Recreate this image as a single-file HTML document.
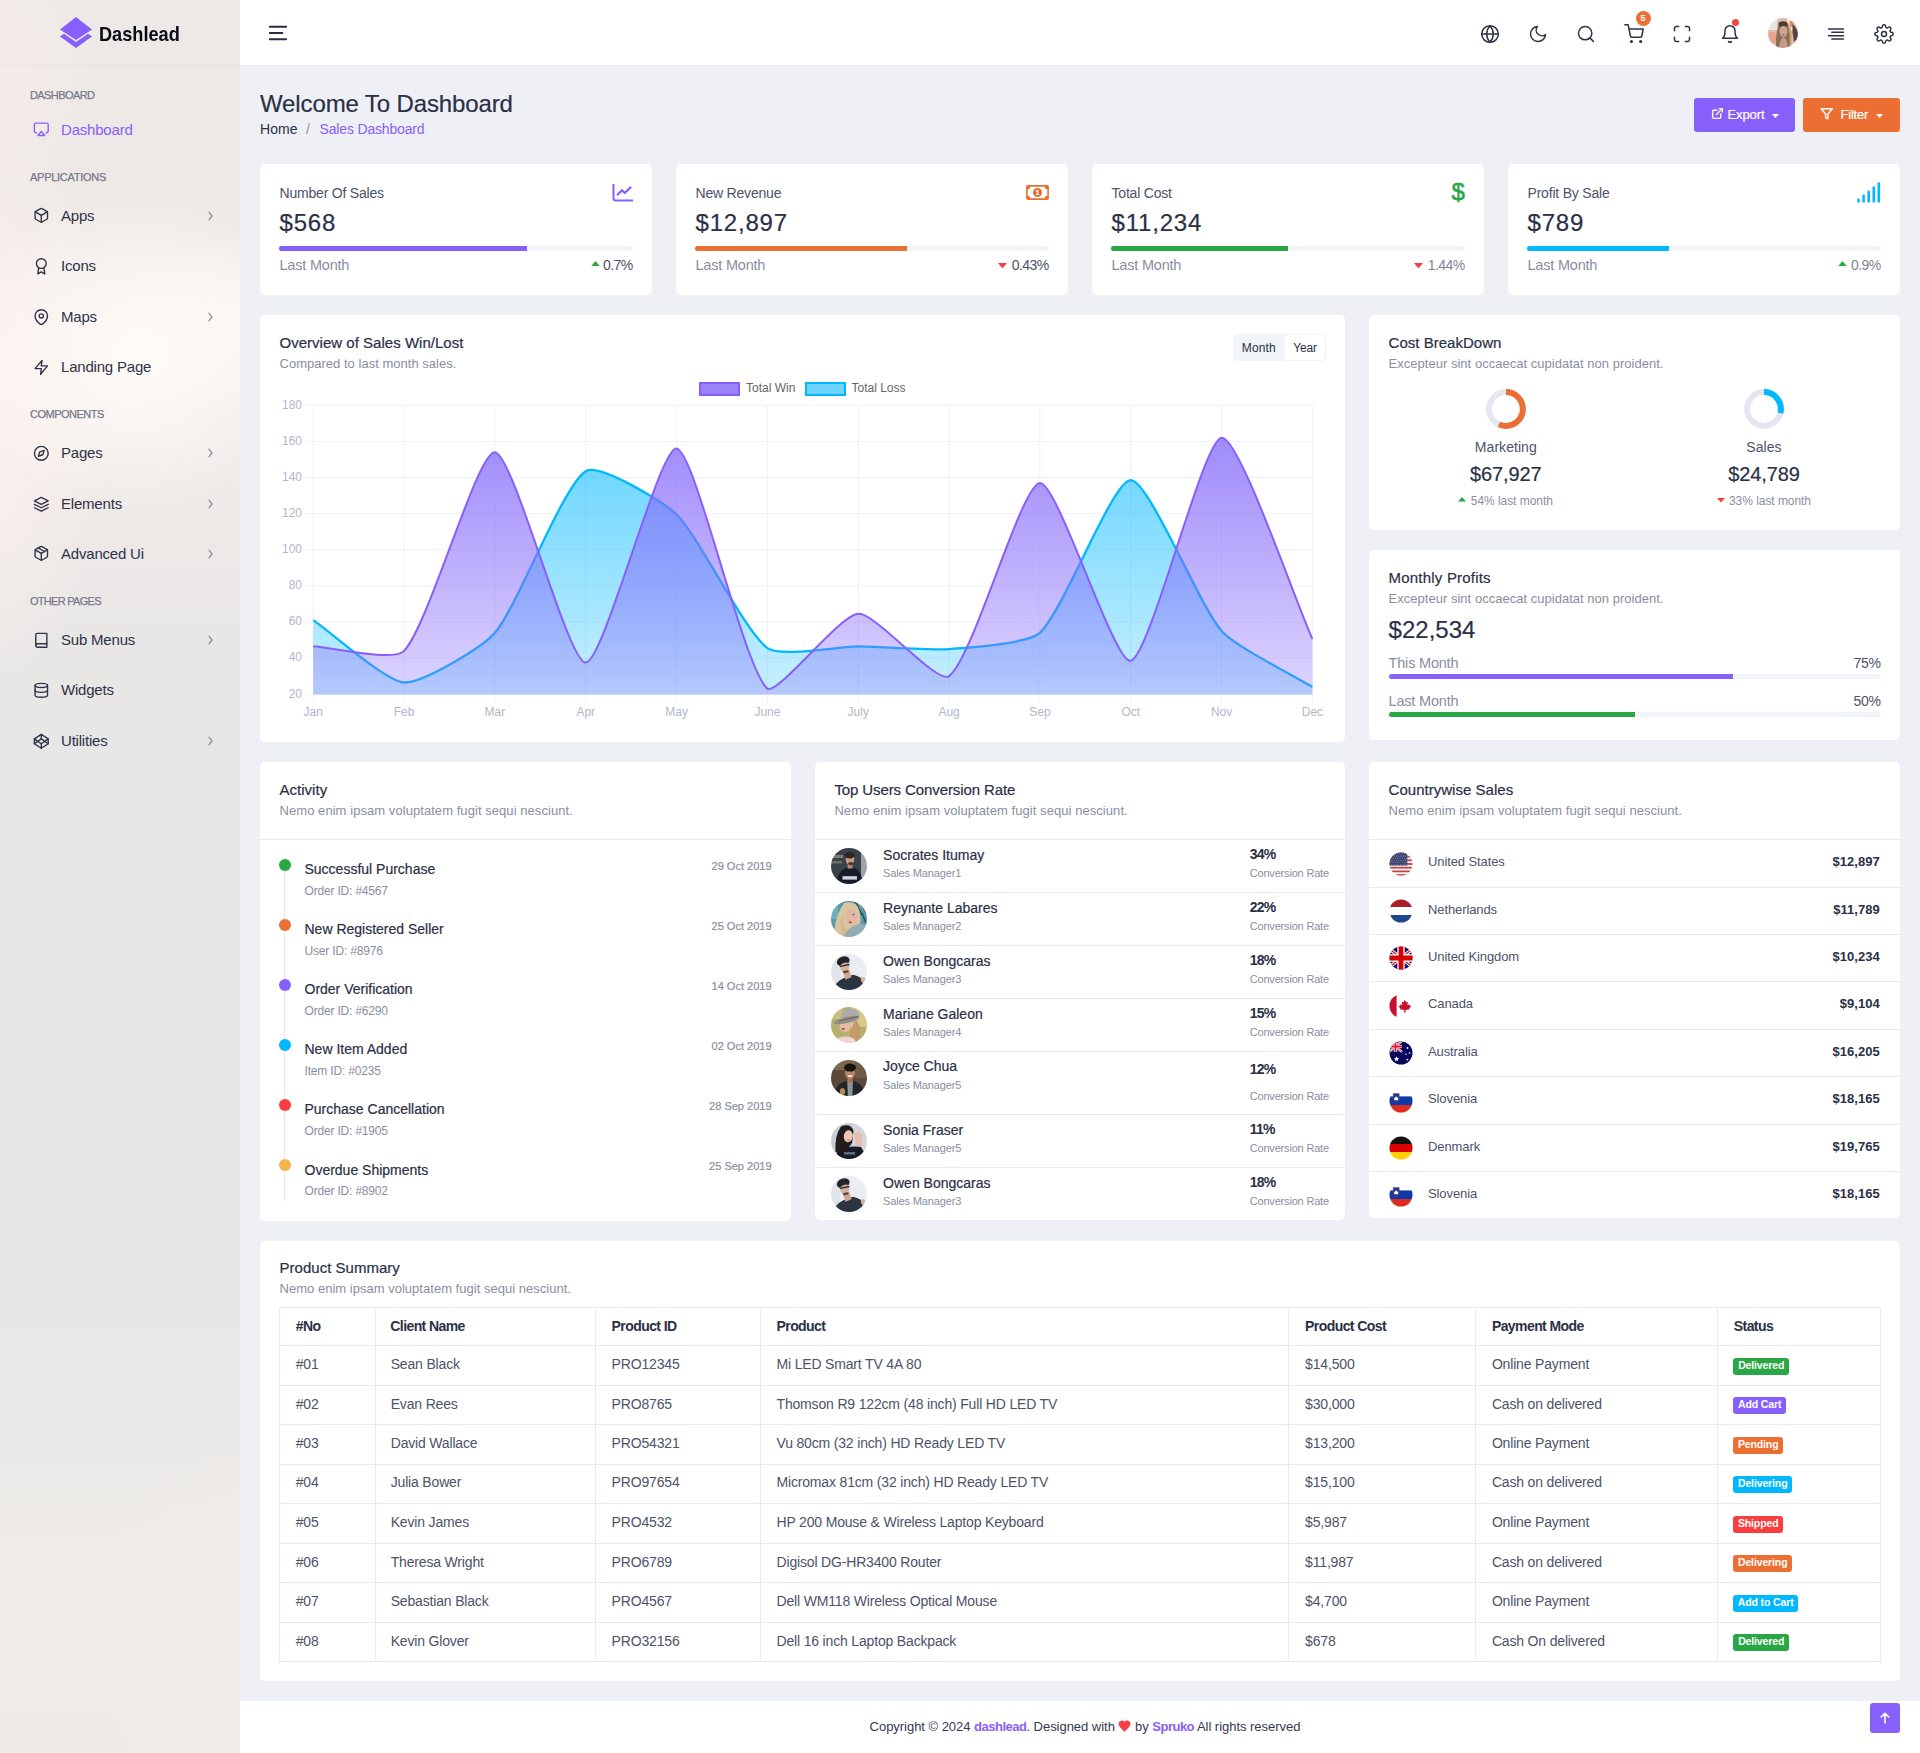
<!DOCTYPE html>
<html lang="en">
<head>
<meta charset="utf-8">
<title>Dashlead - Sales Dashboard</title>
<style>
*{box-sizing:border-box;margin:0;padding:0}
html,body{width:1920px;height:1753px;overflow:hidden}
body{font-family:"Liberation Sans",Arial,sans-serif;font-size:14px;color:#1d212f;background:#eff0f6;position:relative;line-height:1}
.abs{position:absolute}
.t{position:absolute;white-space:nowrap;line-height:1}
.m{-webkit-text-stroke:.2px currentColor}
.b{font-weight:700}
.card{position:absolute;background:#fff;border-radius:5px}
.mut{color:#8b8fa1}
svg{display:block}
.ic{position:absolute;fill:none;stroke:currentColor;stroke-linecap:round;stroke-linejoin:round}
/* sidebar */
#sb{position:absolute;left:0;top:0;width:240px;height:1753px;overflow:hidden;
background:
 radial-gradient(ellipse 180px 160px at 135px 355px, rgba(255,251,248,1) 0%, rgba(255,250,247,.7) 40%, rgba(255,250,247,0) 100%),
 radial-gradient(ellipse 130px 95px at 240px 325px, rgba(255,249,245,.85), rgba(255,249,245,0) 100%),
 radial-gradient(ellipse 120px 290px at -12px 400px, rgba(252,242,238,.95), rgba(252,242,238,0) 100%),
 radial-gradient(ellipse 110px 130px at -12px 70px, rgba(247,237,233,.85), rgba(247,237,233,0) 100%),
 radial-gradient(ellipse 160px 200px at 250px 1640px, rgba(243,237,232,.8), rgba(243,237,232,0) 100%),
 linear-gradient(180deg,#ede9e7 0px,#eee9e7 180px,#f2ecea 330px,#efeae8 480px,#e9e7e6 640px,#e6e6e6 800px,#e6e7e7 1250px,#eae8e7 1420px,#eeebe8 1560px,#eeeae8 1753px);}
#sb .lab{position:absolute;left:30px;font-size:11px;color:#76798a;letter-spacing:.1px;white-space:nowrap;-webkit-text-stroke:.25px currentColor}
#sb .it{position:absolute;left:61px;font-size:15px;color:#2e3347;white-space:nowrap;letter-spacing:-.2px}
#sb .chev{position:absolute;left:206px;width:8px;height:10px;color:#8a8d9b}
#sb .mi{position:absolute;left:33.2px;width:16.6px;height:16.6px;color:#2e3347;fill:none;stroke:currentColor;stroke-width:2;stroke-linecap:round;stroke-linejoin:round}
/* header */
#hd{position:absolute;left:240px;top:0;width:1680px;height:66px;background:#fff;border-bottom:1px solid #e4e6f0}
.hi{position:absolute;width:20px;height:20px;top:23.5px;color:#2e3347;fill:none;stroke:currentColor;stroke-width:1.8;stroke-linecap:round;stroke-linejoin:round}
.bar{position:absolute;height:5px;border-radius:3px;background:#f1f4f9}
.bar i{position:absolute;left:0;top:0;height:5px;border-radius:3px 0 0 3px;display:block}
</style>
</head>
<body>
<div id="sb">
<svg class="abs" style="left:59px;top:16px;width:34px;height:33px" viewBox="0 0 34 33"><polygon points="17,1 33,13.5 17,24 1,13.5" fill="#8760fb"/><polygon points="1,20.5 5,17.8 17,26 29,17.8 33,20.5 17,32" fill="#8760fb"/></svg>
<div class="t b" style="left:99.4px;top:23px;font-size:21px;color:#0b0b14;transform:scaleX(.865);transform-origin:0 0">Dashlead</div>
<div class="abs" style="left:0;top:65px;width:240px;height:1px;background:rgba(60,50,60,.04)"></div>
<div class="lab" style="top:89.5px;letter-spacing:-0.59px">DASHBOARD</div>
<div class="lab" style="top:171.5px;letter-spacing:-0.27px">APPLICATIONS</div>
<div class="lab" style="top:408.5px;letter-spacing:-0.51px">COMPONENTS</div>
<div class="lab" style="top:595.5px;letter-spacing:-0.71px">OTHER PAGES</div>
<svg class="mi" style="top:120.9px;color:#8760fb" viewBox="0 0 24 24"><path d="M5 17H4a2 2 0 0 1-2-2V5a2 2 0 0 1 2-2h16a2 2 0 0 1 2 2v10a2 2 0 0 1-2 2h-1"/><polygon points="12 15 17 21 7 21 12 15"/></svg>
<div class="it" style="top:122px;color:#8760fb">Dashboard</div>
<svg class="mi" style="top:206.9px;color:#2e3347" viewBox="0 0 24 24"><path d="M21 16V8a2 2 0 0 0-1-1.73l-7-4a2 2 0 0 0-2 0l-7 4A2 2 0 0 0 3 8v8a2 2 0 0 0 1 1.73l7 4a2 2 0 0 0 2 0l7-4A2 2 0 0 0 21 16z"/><polyline points="3.27 6.96 12 12.01 20.73 6.96"/><line x1="12" y1="22.08" x2="12" y2="12"/></svg>
<div class="it" style="top:208px;color:#2e3347">Apps</div>
<svg class="chev" style="top:211px" viewBox="0 0 8 10"><polyline points="2.9,1.2 6,5 2.9,8.8" fill="none" stroke="currentColor" stroke-width="1.2" stroke-linecap="round" stroke-linejoin="round"/></svg>
<svg class="mi" style="top:258.0px;color:#2e3347" viewBox="0 0 24 24"><circle cx="12" cy="8" r="7"/><polyline points="8.21 13.89 7 23 12 20 17 23 15.79 13.88"/></svg>
<div class="it" style="top:258px;color:#2e3347">Icons</div>
<svg class="mi" style="top:308.5px;color:#2e3347" viewBox="0 0 24 24"><path d="M21 10c0 7-9 13-9 13s-9-6-9-13a9 9 0 0 1 18 0z"/><circle cx="12" cy="10" r="3"/></svg>
<div class="it" style="top:308.5px;color:#2e3347">Maps</div>
<svg class="chev" style="top:311.5px" viewBox="0 0 8 10"><polyline points="2.9,1.2 6,5 2.9,8.8" fill="none" stroke="currentColor" stroke-width="1.2" stroke-linecap="round" stroke-linejoin="round"/></svg>
<svg class="mi" style="top:358.5px;color:#2e3347" viewBox="0 0 24 24"><polygon points="13 2 3 14 12 14 11 22 21 10 12 10 13 2"/></svg>
<div class="it" style="top:358.5px;color:#2e3347">Landing Page</div>
<svg class="mi" style="top:444.5px;color:#2e3347" viewBox="0 0 24 24"><circle cx="12" cy="12" r="10"/><polygon points="16.24 7.76 14.12 14.12 7.76 16.24 9.88 9.88 16.24 7.76"/></svg>
<div class="it" style="top:444.5px;color:#2e3347">Pages</div>
<svg class="chev" style="top:447.5px" viewBox="0 0 8 10"><polyline points="2.9,1.2 6,5 2.9,8.8" fill="none" stroke="currentColor" stroke-width="1.2" stroke-linecap="round" stroke-linejoin="round"/></svg>
<svg class="mi" style="top:495.5px;color:#2e3347" viewBox="0 0 24 24"><polygon points="12 2 2 7 12 12 22 7 12 2"/><polyline points="2 17 12 22 22 17"/><polyline points="2 12 12 17 22 12"/></svg>
<div class="it" style="top:495.5px;color:#2e3347">Elements</div>
<svg class="chev" style="top:498.5px" viewBox="0 0 8 10"><polyline points="2.9,1.2 6,5 2.9,8.8" fill="none" stroke="currentColor" stroke-width="1.2" stroke-linecap="round" stroke-linejoin="round"/></svg>
<svg class="mi" style="top:545.0px;color:#2e3347" viewBox="0 0 24 24"><line x1="16.5" y1="9.4" x2="7.5" y2="4.21"/><path d="M21 16V8a2 2 0 0 0-1-1.73l-7-4a2 2 0 0 0-2 0l-7 4A2 2 0 0 0 3 8v8a2 2 0 0 0 1 1.73l7 4a2 2 0 0 0 2 0l7-4A2 2 0 0 0 21 16z"/><polyline points="3.27 6.96 12 12.01 20.73 6.96"/><line x1="12" y1="22.08" x2="12" y2="12"/></svg>
<div class="it" style="top:545.5px;color:#2e3347">Advanced Ui</div>
<svg class="chev" style="top:548.5px" viewBox="0 0 8 10"><polyline points="2.9,1.2 6,5 2.9,8.8" fill="none" stroke="currentColor" stroke-width="1.2" stroke-linecap="round" stroke-linejoin="round"/></svg>
<svg class="mi" style="top:631.5px;color:#2e3347" viewBox="0 0 24 24"><path d="M4 19.5A2.5 2.5 0 0 1 6.5 17H20"/><path d="M6.5 2H20v20H6.5A2.5 2.5 0 0 1 4 19.5v-15A2.5 2.5 0 0 1 6.5 2z"/></svg>
<div class="it" style="top:631.5px;color:#2e3347">Sub Menus</div>
<svg class="chev" style="top:634.5px" viewBox="0 0 8 10"><polyline points="2.9,1.2 6,5 2.9,8.8" fill="none" stroke="currentColor" stroke-width="1.2" stroke-linecap="round" stroke-linejoin="round"/></svg>
<svg class="mi" style="top:682.0px;color:#2e3347" viewBox="0 0 24 24"><ellipse cx="12" cy="5" rx="9" ry="3"/><path d="M21 12c0 1.66-4 3-9 3s-9-1.34-9-3"/><path d="M3 5v14c0 1.66 4 3 9 3s9-1.34 9-3V5"/></svg>
<div class="it" style="top:682px;color:#2e3347">Widgets</div>
<svg class="mi" style="top:732.5px;color:#2e3347" viewBox="0 0 24 24"><polygon points="12 2 22 8.5 22 15.5 12 22 2 15.5 2 8.5 12 2"/><line x1="12" y1="22" x2="12" y2="15.5"/><polyline points="22 8.5 12 15.5 2 8.5"/><polyline points="2 15.5 12 8.5 22 15.5"/><line x1="12" y1="2" x2="12" y2="8.5"/></svg>
<div class="it" style="top:732.5px;color:#2e3347">Utilities</div>
<svg class="chev" style="top:735.5px" viewBox="0 0 8 10"><polyline points="2.9,1.2 6,5 2.9,8.8" fill="none" stroke="currentColor" stroke-width="1.2" stroke-linecap="round" stroke-linejoin="round"/></svg>
</div>
<div id="hd">
<svg class="abs" style="left:28px;top:25px;width:20px;height:16px" viewBox="0 0 20 16"><g stroke="#272c40" stroke-width="1.9" stroke-linecap="round"><line x1="1.8" y1="1.8" x2="18.2" y2="1.8"/><line x1="1.8" y1="8" x2="14.4" y2="8"/><line x1="1.8" y1="14.2" x2="18.2" y2="14.2"/></g></svg>
<svg class="hi" style="left:1240px" viewBox="0 0 24 24"><circle cx="12" cy="12" r="10"/><line x1="2" y1="12" x2="22" y2="12"/><path d="M12 2a15.3 15.3 0 0 1 4 10 15.3 15.3 0 0 1-4 10 15.3 15.3 0 0 1-4-10 15.3 15.3 0 0 1 4-10z"/></svg>
<svg class="hi" style="left:1288px" viewBox="0 0 24 24"><path d="M21 12.79A9 9 0 1 1 11.21 3 7 7 0 0 0 21 12.79z"/></svg>
<svg class="hi" style="left:1336px" viewBox="0 0 24 24"><circle cx="11" cy="11" r="8"/><line x1="21" y1="21" x2="16.65" y2="16.65"/></svg>
<svg class="hi" style="left:1384px" viewBox="0 0 24 24"><circle cx="9" cy="21" r="1"/><circle cx="20" cy="21" r="1"/><path d="M1 1h4l2.68 13.39a2 2 0 0 0 2 1.61h9.72a2 2 0 0 0 2-1.61L23 6H6"/></svg>
<svg class="hi" style="left:1432px" viewBox="0 0 24 24"><path d="M8 3H5a2 2 0 0 0-2 2v3m18 0V5a2 2 0 0 0-2-2h-3m0 18h3a2 2 0 0 0 2-2v-3M3 16v3a2 2 0 0 0 2 2h3"/></svg>
<svg class="hi" style="left:1480px" viewBox="0 0 24 24"><path d="M18 8A6 6 0 0 0 6 8c0 7-3 9-3 9h18s-3-2-3-9"/><path d="M13.73 21a2 2 0 0 1-3.46 0"/></svg>
<svg class="hi" style="left:1586px" viewBox="0 0 24 24"><line x1="21" y1="10" x2="7" y2="10"/><line x1="21" y1="6" x2="3" y2="6"/><line x1="21" y1="14" x2="3" y2="14"/><line x1="21" y1="18" x2="7" y2="18"/></svg>
<svg class="hi" style="left:1634px" viewBox="0 0 24 24"><circle cx="12" cy="12" r="3"/><path d="M19.4 15a1.65 1.65 0 0 0 .33 1.82l.06.06a2 2 0 0 1 0 2.83 2 2 0 0 1-2.83 0l-.06-.06a1.65 1.65 0 0 0-1.82-.33 1.65 1.65 0 0 0-1 1.51V21a2 2 0 0 1-2 2 2 2 0 0 1-2-2v-.09A1.65 1.65 0 0 0 9 19.4a1.65 1.65 0 0 0-1.82.33l-.06.06a2 2 0 0 1-2.83 0 2 2 0 0 1 0-2.83l.06-.06a1.65 1.65 0 0 0 .33-1.82 1.65 1.65 0 0 0-1.51-1H3a2 2 0 0 1-2-2 2 2 0 0 1 2-2h.09A1.65 1.65 0 0 0 4.6 9a1.65 1.65 0 0 0-.33-1.82l-.06-.06a2 2 0 0 1 0-2.83 2 2 0 0 1 2.83 0l.06.06a1.65 1.65 0 0 0 1.82.33H9a1.65 1.65 0 0 0 1-1.51V3a2 2 0 0 1 2-2 2 2 0 0 1 2 2v.09a1.65 1.65 0 0 0 1 1.51 1.65 1.65 0 0 0 1.82-.33l.06-.06a2 2 0 0 1 2.83 0 2 2 0 0 1 0 2.83l-.06.06a1.65 1.65 0 0 0-.33 1.82V9a1.65 1.65 0 0 0 1.51 1H21a2 2 0 0 1 2 2 2 2 0 0 1-2 2h-.09a1.65 1.65 0 0 0-1.51 1z"/></svg>
<div class="abs b" style="left:1395.5px;top:11px;width:15px;height:15px;border-radius:8px;background:#eb6f33;color:#fff;font-size:9px;line-height:15px;text-align:center">5</div>
<div class="abs" style="left:1492px;top:19px;width:7px;height:7px;border-radius:4px;background:#f34343"></div>
<svg class="abs" style="left:1528px;top:18px;width:30px;height:30px" viewBox="0 0 30 30"><defs><clipPath id="havc"><circle cx="15.0" cy="15.0" r="15.0"/></clipPath><filter id="havf" x="-10%" y="-10%" width="120%" height="120%"><feGaussianBlur stdDeviation="0.4"/></filter></defs><g clip-path="url(#havc)"><g filter="url(#havf)"><rect x="-2" y="-2" width="34" height="34" fill="#dcbcae"/><rect x="-2" y="-2" width="11" height="14" fill="#e9e4e0"/><rect x="19" y="-2" width="6" height="14" fill="#ece6e0"/><rect x="21.500" y="3" width="4" height="6" fill="#e58e6a"/><path d="M24.500 6 Q30 10 30.500 20 L26 24 L24.500 14 Z" fill="#5a423c"/><ellipse cx="4" cy="20" rx="5" ry="6" fill="#e6a48e"/><path d="M8 32 Q7.500 11 11.500 6 Q15 1.500 19.500 5 Q23 9 22.500 32 Z" fill="#8f6d52"/><ellipse cx="15" cy="6.200" rx="4.600" ry="3" fill="#4d3c35"/><path d="M20 8 Q22.500 16 21.500 28 L23.500 28 Q24.500 14 21.500 7 Z" fill="#c9a777"/><path d="M10.800 32 Q11.500 20.500 15.500 19 Q19.500 20.500 20 32 Z" fill="#c29b8b"/><ellipse cx="15.500" cy="13.300" rx="4" ry="5.500" fill="#cba392"/><ellipse cx="15.500" cy="16.600" rx="1.100" ry=".6" fill="#a4504d"/></g></g></svg>
</div>
<div class="t m" style="top:91.68px;font-size:24px;left:260.00px;color:#2a3045;letter-spacing:-0.12px;">Welcome To Dashboard</div>
<div class="t " style="top:121.90px;font-size:14px;left:260.00px;color:#2a3045;letter-spacing:0.03px;">Home</div>
<div class="t " style="top:121.90px;font-size:14px;left:306.00px;color:#8a8ea0;">/</div>
<div class="t " style="top:121.90px;font-size:14px;left:319.50px;color:#8760fb;letter-spacing:-0.16px;">Sales Dashboard</div>
<div class="abs" style="left:1694px;top:98px;width:101px;height:34px;background:#8760fb;border-radius:3px"></div>
<svg class="ic" style="left:1710.5px;top:107px;width:13px;height:13px;color:#fff;stroke-width:2.5" viewBox="0 0 24 24"><path d="M18 13v6a2 2 0 0 1-2 2H5a2 2 0 0 1-2-2V8a2 2 0 0 1 2-2h6"/><polyline points="15 3 21 3 21 9"/><line x1="10" y1="14" x2="21" y2="3"/></svg>
<div class="t m" style="top:108.30px;font-size:13px;left:1727.50px;color:#fff;letter-spacing:-0.1px;">Export</div>
<svg class="abs" style="left:1772px;top:114px;width:7px;height:4px" viewBox="0 0 7 4"><polygon points="0,0 7,0 3.5,4" fill="#fff"/></svg>
<div class="abs" style="left:1803px;top:98px;width:97px;height:34px;background:#eb6f33;border-radius:3px"></div>
<svg class="ic" style="left:1820px;top:107px;width:13.5px;height:13.5px;color:#fff;stroke-width:2.5" viewBox="0 0 24 24"><polygon points="22 3 2 3 10 12.46 10 19 14 21 14 12.46 22 3"/></svg>
<div class="t m" style="top:108.30px;font-size:13px;left:1840.50px;color:#fff;letter-spacing:-0.2px;">Filter</div>
<svg class="abs" style="left:1876px;top:114px;width:7px;height:4px" viewBox="0 0 7 4"><polygon points="0,0 7,0 3.5,4" fill="#fff"/></svg>
<div class="card" style="left:260px;top:164px;width:392px;height:130.5px;"></div>
<div class="t " style="top:186.15px;font-size:14px;left:279.50px;color:#4d5369;letter-spacing:-0.2px;">Number Of Sales</div>
<div class="t m" style="top:210.98px;font-size:24px;left:279.50px;color:#2a3045;letter-spacing:0.8px;">$568</div>
<div class="bar" style="left:279px;top:246px;width:354px;height:5px"><i style="width:247.8px;background:#8760fb;height:5px"></i></div>
<div class="t " style="top:257.73px;font-size:14.5px;left:279.50px;color:#8a8ea0;letter-spacing:-0.2px;">Last Month</div>
<div class="t " style="top:258.15px;font-size:14px;right:1287.50px;color:#4d5369;letter-spacing:-0.6px;">0.7%</div>
<div class="card" style="left:676px;top:164px;width:392px;height:130.5px;"></div>
<div class="t " style="top:186.15px;font-size:14px;left:695.50px;color:#4d5369;letter-spacing:-0.2px;">New Revenue</div>
<div class="t m" style="top:210.98px;font-size:24px;left:695.50px;color:#2a3045;letter-spacing:0.8px;">$12,897</div>
<div class="bar" style="left:695px;top:246px;width:354px;height:5px"><i style="width:212.4px;background:#eb6f33;height:5px"></i></div>
<div class="t " style="top:257.73px;font-size:14.5px;left:695.50px;color:#8a8ea0;letter-spacing:-0.2px;">Last Month</div>
<div class="t " style="top:258.15px;font-size:14px;right:871.50px;color:#4d5369;letter-spacing:-0.6px;">0.43%</div>
<div class="card" style="left:1092px;top:164px;width:392px;height:130.5px;"></div>
<div class="t " style="top:186.15px;font-size:14px;left:1111.50px;color:#4d5369;letter-spacing:-0.2px;">Total Cost</div>
<div class="t m" style="top:210.98px;font-size:24px;left:1111.50px;color:#2a3045;letter-spacing:0.8px;">$11,234</div>
<div class="bar" style="left:1111px;top:246px;width:354px;height:5px"><i style="width:177.0px;background:#29a744;height:5px"></i></div>
<div class="t " style="top:257.73px;font-size:14.5px;left:1111.50px;color:#8a8ea0;letter-spacing:-0.2px;">Last Month</div>
<div class="t " style="top:258.15px;font-size:14px;right:455.50px;color:#7f8599;letter-spacing:-0.6px;">1.44%</div>
<div class="card" style="left:1508px;top:164px;width:392px;height:130.5px;"></div>
<div class="t " style="top:186.15px;font-size:14px;left:1527.50px;color:#4d5369;letter-spacing:-0.2px;">Profit By Sale</div>
<div class="t m" style="top:210.98px;font-size:24px;left:1527.50px;color:#2a3045;letter-spacing:0.8px;">$789</div>
<div class="bar" style="left:1527px;top:246px;width:354px;height:5px"><i style="width:141.6px;background:#01b8ff;height:5px"></i></div>
<div class="t " style="top:257.73px;font-size:14.5px;left:1527.50px;color:#8a8ea0;letter-spacing:-0.2px;">Last Month</div>
<div class="t " style="top:258.15px;font-size:14px;right:39.50px;color:#7f8599;letter-spacing:-0.6px;">0.9%</div>
<svg class="abs" style="left:612px;top:183.5px;width:21px;height:18px" viewBox="0 0 21 18"><path d="M1.5 0.5 V14.2 Q1.5 16.5 3.8 16.5 H20.5" fill="none" stroke="#8760fb" stroke-width="2" stroke-linecap="round"/><polyline points="5.8,10.6 10,6.2 12.8,9 18.6,3.4" fill="none" stroke="#8760fb" stroke-width="2.2" stroke-linecap="round" stroke-linejoin="round"/></svg>
<svg class="abs" style="left:1026px;top:185px;width:23px;height:15px" viewBox="0 0 23 15"><defs><clipPath id="mbc"><rect x="0.1" y="0.1" width="22.8" height="14.8" rx="2.2"/></clipPath></defs><g clip-path="url(#mbc)"><rect x=".85" y=".85" width="21.3" height="13.3" rx="1.5" fill="none" stroke="#eb6f33" stroke-width="1.7"/><g fill="#eb6f33"><circle cx="1.6" cy="1.6" r="2.7"/><circle cx="21.4" cy="1.6" r="2.7"/><circle cx="1.6" cy="13.4" r="2.7"/><circle cx="21.4" cy="13.4" r="2.7"/><circle cx="11.5" cy="7.5" r="4.5"/></g><path d="M11.05 5.1h1.25v4h.7v.9h-3v-.9h.9v-2.600l-.8.45-.4-.8z" fill="#fff"/></g></svg>
<div class="t " style="top:180.08px;font-size:24px;left:1451.60px;color:#29a744;-webkit-text-stroke:.55px #29a744;">$</div>
<svg class="abs" style="left:1857px;top:182px;width:24px;height:21px" viewBox="0 0 24 21"><g fill="#01b8ff"><rect x="0.2" y="16.6" width="2.6" height="4" rx="1.2"/><rect x="5.3" y="12.5" width="2.6" height="8.1" rx="1.2"/><rect x="10.4" y="8.4" width="2.6" height="12.2" rx="1.2"/><rect x="15.5" y="4.2" width="2.6" height="16.4" rx="1.2"/><rect x="20.5" y="0.2" width="2.6" height="20.4" rx="1.2"/></g></svg>
<svg class="abs" style="left:590.5px;top:260.9px;width:9px;height:5.4px" viewBox="0 0 9 5.4"><polygon points="0,5.4 4.5,0 9,5.4" fill="#29a744"/></svg>
<svg class="abs" style="left:998px;top:262.7px;width:9px;height:5.4px" viewBox="0 0 9 5.4"><polygon points="0,0 9,0 4.5,5.4" fill="#f83e3e"/></svg>
<svg class="abs" style="left:1413.5px;top:262.7px;width:9px;height:5.4px" viewBox="0 0 9 5.4"><polygon points="0,0 9,0 4.5,5.4" fill="#f83e3e"/></svg>
<svg class="abs" style="left:1838px;top:260.9px;width:9px;height:5.4px" viewBox="0 0 9 5.4"><polygon points="0,5.4 4.5,0 9,5.4" fill="#29a744"/></svg>
<div class="card" style="left:260px;top:315px;width:1085px;height:427px;"></div>
<div class="t m" style="top:335.30px;font-size:15px;left:279.50px;color:#2a3045;letter-spacing:0.02px;">Overview of Sales Win/Lost</div>
<div class="t " style="top:357.00px;font-size:13px;left:279.50px;color:#8a8ea0;letter-spacing:0.02px;">Compared to last month sales.</div>
<div class="abs" style="left:1233px;top:333.8px;width:92.5px;height:27.5px;background:#fff;border:1px solid #f0f2f8;border-radius:4px"></div>
<div class="abs" style="left:1233px;top:333.8px;width:51.5px;height:27.5px;background:#f1f4f9;border-radius:4px 0 0 4px"></div>
<div class="t " style="top:341.84px;font-size:12px;left:958.80px;width:600px;text-align:center;color:#2a3045;letter-spacing:0.15px;">Month</div>
<div class="t " style="top:341.84px;font-size:12px;left:1005.00px;width:600px;text-align:center;color:#2a3045;letter-spacing:-0.2px;">Year</div>
<svg class="abs" style="left:260px;top:315px;width:1085px;height:427px" viewBox="260 315 1085 427"><defs><linearGradient id="gw" gradientUnits="userSpaceOnUse" x1="0" y1="432" x2="0" y2="694"><stop offset="0" stop-color="#846dfa" stop-opacity=".8"/><stop offset="1" stop-color="#8768fb" stop-opacity=".28"/></linearGradient><linearGradient id="gl" gradientUnits="userSpaceOnUse" x1="0" y1="432" x2="0" y2="694"><stop offset="0" stop-color="#01b8ff" stop-opacity=".62"/><stop offset="1" stop-color="#01b8ff" stop-opacity=".22"/></linearGradient></defs><g stroke="#f0f1f6" stroke-width="1" shape-rendering="auto"><line x1="305.5" y1="694.20" x2="1312.40" y2="694.20"/><line x1="305.5" y1="658.08" x2="1312.40" y2="658.08"/><line x1="305.5" y1="621.96" x2="1312.40" y2="621.96"/><line x1="305.5" y1="585.84" x2="1312.40" y2="585.84"/><line x1="305.5" y1="549.73" x2="1312.40" y2="549.73"/><line x1="305.5" y1="513.61" x2="1312.40" y2="513.61"/><line x1="305.5" y1="477.49" x2="1312.40" y2="477.49"/><line x1="305.5" y1="441.37" x2="1312.40" y2="441.37"/><line x1="305.5" y1="405.25" x2="1312.40" y2="405.25"/><line x1="313.25" y1="405.25" x2="313.25" y2="702.6"/><line x1="404.08" y1="405.25" x2="404.08" y2="702.6"/><line x1="494.91" y1="405.25" x2="494.91" y2="702.6"/><line x1="585.75" y1="405.25" x2="585.75" y2="702.6"/><line x1="676.58" y1="405.25" x2="676.58" y2="702.6"/><line x1="767.41" y1="405.25" x2="767.41" y2="702.6"/><line x1="858.24" y1="405.25" x2="858.24" y2="702.6"/><line x1="949.07" y1="405.25" x2="949.07" y2="702.6"/><line x1="1039.90" y1="405.25" x2="1039.90" y2="702.6"/><line x1="1130.74" y1="405.25" x2="1130.74" y2="702.6"/><line x1="1221.57" y1="405.25" x2="1221.57" y2="702.6"/><line x1="1312.40" y1="405.25" x2="1312.40" y2="702.6"/></g><path d="M313.25,620.16 C331.42,632.62 385.35,681.16 404.08,682.46 C421.68,683.69 481.90,647.94 494.91,632.80 C518.23,605.68 562.20,486.50 585.75,471.17 C598.53,462.84 662.63,500.92 676.58,514.51 C698.97,536.32 744.15,631.27 767.41,648.15 C780.48,657.64 840.08,646.25 858.24,646.34 C876.41,646.43 931.05,650.40 949.07,649.05 C967.38,647.69 1027.48,644.35 1039.90,632.80 C1063.81,610.57 1112.49,480.38 1130.74,480.20 C1148.82,480.02 1198.95,605.24 1221.57,630.99 C1235.28,646.60 1294.23,675.78 1312.40,686.98 L1312.40,694.50 L313.25,694.50 Z" fill="url(#gl)"/><path d="M313.25,620.16 C331.42,632.62 385.35,681.16 404.08,682.46 C421.68,683.69 481.90,647.94 494.91,632.80 C518.23,605.68 562.20,486.50 585.75,471.17 C598.53,462.84 662.63,500.92 676.58,514.51 C698.97,536.32 744.15,631.27 767.41,648.15 C780.48,657.64 840.08,646.25 858.24,646.34 C876.41,646.43 931.05,650.40 949.07,649.05 C967.38,647.69 1027.48,644.35 1039.90,632.80 C1063.81,610.57 1112.49,480.38 1130.74,480.20 C1148.82,480.02 1198.95,605.24 1221.57,630.99 C1235.28,646.60 1294.23,675.78 1312.40,686.98" fill="none" stroke="#01b8ff" stroke-width="2.3" stroke-linejoin="round"/><path d="M313.25,646.34 C331.42,647.25 393.40,662.27 404.08,650.86 C429.73,623.44 477.18,451.06 494.91,452.20 C513.52,453.41 567.71,662.95 585.75,662.60 C604.04,662.23 659.31,446.10 676.58,448.59 C695.65,451.34 742.50,666.12 767.41,688.78 C778.83,694.20 839.47,615.14 858.24,613.84 C875.80,612.61 936.71,685.05 949.07,676.14 C973.04,658.87 1021.13,484.49 1039.90,482.91 C1057.46,481.42 1114.26,664.88 1130.74,660.79 C1150.60,655.85 1202.62,440.02 1221.57,437.76 C1238.95,435.68 1294.23,598.85 1312.40,639.12 L1312.40,694.50 L313.25,694.50 Z" fill="url(#gw)"/><path d="M313.25,646.34 C331.42,647.25 393.40,662.27 404.08,650.86 C429.73,623.44 477.18,451.06 494.91,452.20 C513.52,453.41 567.71,662.95 585.75,662.60 C604.04,662.23 659.31,446.10 676.58,448.59 C695.65,451.34 742.50,666.12 767.41,688.78 C778.83,694.20 839.47,615.14 858.24,613.84 C875.80,612.61 936.71,685.05 949.07,676.14 C973.04,658.87 1021.13,484.49 1039.90,482.91 C1057.46,481.42 1114.26,664.88 1130.74,660.79 C1150.60,655.85 1202.62,440.02 1221.57,437.76 C1238.95,435.68 1294.23,598.85 1312.40,639.12" fill="none" stroke="#8760fb" stroke-width="2" stroke-linejoin="round"/><rect x="700" y="383" width="39" height="12" fill="#9b84fb" stroke="#8760fb" stroke-width="2"/><rect x="806" y="383" width="39" height="12" fill="#6dd5fd" stroke="#01b8ff" stroke-width="2"/><g font-family="Liberation Sans, Arial, sans-serif" font-size="12" fill="#666"><text x="746" y="391.7">Total Win</text><text x="851.5" y="391.7">Total Loss</text></g><g font-family="Liberation Sans, Arial, sans-serif" font-size="12" fill="#b2b6ca"><text x="302" y="697.60" text-anchor="end">20</text><text x="302" y="661.48" text-anchor="end">40</text><text x="302" y="625.36" text-anchor="end">60</text><text x="302" y="589.24" text-anchor="end">80</text><text x="302" y="553.12" text-anchor="end">100</text><text x="302" y="517.01" text-anchor="end">120</text><text x="302" y="480.89" text-anchor="end">140</text><text x="302" y="444.77" text-anchor="end">160</text><text x="302" y="408.65" text-anchor="end">180</text><text x="313.25" y="716" text-anchor="middle">Jan</text><text x="404.08" y="716" text-anchor="middle">Feb</text><text x="494.91" y="716" text-anchor="middle">Mar</text><text x="585.75" y="716" text-anchor="middle">Apr</text><text x="676.58" y="716" text-anchor="middle">May</text><text x="767.41" y="716" text-anchor="middle">June</text><text x="858.24" y="716" text-anchor="middle">July</text><text x="949.07" y="716" text-anchor="middle">Aug</text><text x="1039.90" y="716" text-anchor="middle">Sep</text><text x="1130.74" y="716" text-anchor="middle">Oct</text><text x="1221.57" y="716" text-anchor="middle">Nov</text><text x="1312.40" y="716" text-anchor="middle">Dec</text></g></svg>
<div class="card" style="left:1369px;top:315px;width:531px;height:215px;"></div>
<div class="t m" style="top:335.00px;font-size:15px;left:1388.60px;color:#2a3045;letter-spacing:0.02px;">Cost BreakDown</div>
<div class="t " style="top:356.90px;font-size:13px;left:1388.60px;color:#8a8ea0;letter-spacing:0.02px;">Excepteur sint occaecat cupidatat non proident.</div>
<svg class="abs" style="left:1484.8px;top:387.9px;width:42px;height:42px" viewBox="-21 -21 42 42"><circle r="16.9" fill="none" stroke="#e4e6f1" stroke-width="6"/><circle r="16.9" fill="none" stroke="#eb6f33" stroke-width="6" stroke-dasharray="59.99 106.19" transform="rotate(-90)"/></svg>
<svg class="abs" style="left:1743.1px;top:387.95px;width:42px;height:42px" viewBox="-21 -21 42 42"><circle r="16.9" fill="none" stroke="#e4e6f1" stroke-width="6"/><circle r="16.9" fill="none" stroke="#01b8ff" stroke-width="6" stroke-dasharray="30.48 106.19" transform="rotate(-90)"/></svg>
<div class="t " style="top:440.15px;font-size:14px;left:1205.80px;width:600px;text-align:center;color:#4d5369;letter-spacing:0.05px;">Marketing</div>
<div class="t m" style="top:463.77px;font-size:20px;left:1205.80px;width:600px;text-align:center;color:#2a3045;letter-spacing:-0.1px;">$67,927</div>
<div class="t " style="top:494.94px;font-size:12px;left:1211.80px;width:600px;text-align:center;color:#8a8ea0;letter-spacing:-0.05px;">54% last month</div>
<svg class="abs" style="left:1458.3px;top:497px;width:8px;height:4.5px" viewBox="0 0 8 4.5"><polygon points="0,4.5 4.0,0 8,4.5" fill="#29a744"/></svg>
<div class="t " style="top:440.15px;font-size:14px;left:1464.00px;width:600px;text-align:center;color:#4d5369;letter-spacing:0.05px;">Sales</div>
<div class="t m" style="top:463.77px;font-size:20px;left:1464.00px;width:600px;text-align:center;color:#2a3045;letter-spacing:-0.1px;">$24,789</div>
<div class="t " style="top:494.94px;font-size:12px;left:1470.00px;width:600px;text-align:center;color:#8a8ea0;letter-spacing:-0.05px;">33% last month</div>
<svg class="abs" style="left:1716.5px;top:498px;width:8px;height:4.5px" viewBox="0 0 8 4.5"><polygon points="0,0 8,0 4.0,4.5" fill="#f83e3e"/></svg>
<div class="card" style="left:1369px;top:550px;width:531px;height:190px;"></div>
<div class="t m" style="top:569.70px;font-size:15px;left:1388.60px;color:#2a3045;letter-spacing:0.2px;">Monthly Profits</div>
<div class="t " style="top:592.00px;font-size:13px;left:1388.60px;color:#8a8ea0;letter-spacing:0.02px;">Excepteur sint occaecat cupidatat non proident.</div>
<div class="t m" style="top:618.18px;font-size:24px;left:1388.60px;color:#2a3045;letter-spacing:0px;">$22,534</div>
<div class="t " style="top:655.73px;font-size:14.5px;left:1388.60px;color:#8a8ea0;letter-spacing:-0.2px;">This Month</div>
<div class="t " style="top:656.15px;font-size:14px;right:39.40px;color:#4d5369;letter-spacing:-0.3px;">75%</div>
<div class="bar" style="left:1388.6px;top:674px;width:492px;height:5px"><i style="width:344.4px;background:#8760fb;height:5px"></i></div>
<div class="t " style="top:694.03px;font-size:14.5px;left:1388.60px;color:#8a8ea0;letter-spacing:-0.2px;">Last Month</div>
<div class="t " style="top:694.45px;font-size:14px;right:39.40px;color:#4d5369;letter-spacing:-0.3px;">50%</div>
<div class="bar" style="left:1388.6px;top:712.2px;width:492px;height:5px"><i style="width:246.0px;background:#29a744;height:5px"></i></div>
<div class="card" style="left:260px;top:762px;width:531px;height:458.5px;"></div>
<div class="t m" style="top:781.70px;font-size:15px;left:279.50px;color:#2a3045;letter-spacing:0.02px;">Activity</div>
<div class="t " style="top:803.70px;font-size:13px;left:279.50px;color:#8a8ea0;letter-spacing:0.06px;">Nemo enim ipsam voluptatem fugit sequi nesciunt.</div>
<div class="abs" style="left:260px;top:839px;width:531px;height:1px;background:#e8ebf4;"></div>
<div class="abs" style="left:284.3px;top:865px;width:1px;height:336px;background:#e6e8f2;"></div>
<div class="abs" style="left:279px;top:859.0px;width:12px;height:12px;background:#29a744;border-radius:6px"></div>
<div class="t m" style="top:862.15px;font-size:14px;left:304.50px;color:#2a3045;letter-spacing:0px;">Successful Purchase</div>
<div class="t " style="top:884.84px;font-size:12px;left:304.50px;color:#8a8ea0;letter-spacing:-0.18px;">Order ID: #4567</div>
<div class="t m" style="top:861.09px;font-size:11px;right:1148.50px;color:#8a8ea0;letter-spacing:0px;">29 Oct 2019</div>
<div class="abs" style="left:279px;top:919.07px;width:12px;height:12px;background:#eb6f33;border-radius:6px"></div>
<div class="t m" style="top:922.22px;font-size:14px;left:304.50px;color:#2a3045;letter-spacing:0px;">New Registered Seller</div>
<div class="t " style="top:944.91px;font-size:12px;left:304.50px;color:#8a8ea0;letter-spacing:-0.18px;">User ID: #8976</div>
<div class="t m" style="top:921.16px;font-size:11px;right:1148.50px;color:#8a8ea0;letter-spacing:0px;">25 Oct 2019</div>
<div class="abs" style="left:279px;top:979.14px;width:12px;height:12px;background:#8760fb;border-radius:6px"></div>
<div class="t m" style="top:982.29px;font-size:14px;left:304.50px;color:#2a3045;letter-spacing:0px;">Order Verification</div>
<div class="t " style="top:1004.98px;font-size:12px;left:304.50px;color:#8a8ea0;letter-spacing:-0.18px;">Order ID: #6290</div>
<div class="t m" style="top:981.23px;font-size:11px;right:1148.50px;color:#8a8ea0;letter-spacing:0px;">14 Oct 2019</div>
<div class="abs" style="left:279px;top:1039.21px;width:12px;height:12px;background:#01b8ff;border-radius:6px"></div>
<div class="t m" style="top:1042.36px;font-size:14px;left:304.50px;color:#2a3045;letter-spacing:0px;">New Item Added</div>
<div class="t " style="top:1065.05px;font-size:12px;left:304.50px;color:#8a8ea0;letter-spacing:-0.18px;">Item ID: #0235</div>
<div class="t m" style="top:1041.30px;font-size:11px;right:1148.50px;color:#8a8ea0;letter-spacing:0px;">02 Oct 2019</div>
<div class="abs" style="left:279px;top:1099.28px;width:12px;height:12px;background:#f83e3e;border-radius:6px"></div>
<div class="t m" style="top:1102.43px;font-size:14px;left:304.50px;color:#2a3045;letter-spacing:0px;">Purchase Cancellation</div>
<div class="t " style="top:1125.12px;font-size:12px;left:304.50px;color:#8a8ea0;letter-spacing:-0.18px;">Order ID: #1905</div>
<div class="t m" style="top:1101.37px;font-size:11px;right:1148.50px;color:#8a8ea0;letter-spacing:0px;">28 Sep 2019</div>
<div class="abs" style="left:279px;top:1159.35px;width:12px;height:12px;background:#f3b54b;border-radius:6px"></div>
<div class="t m" style="top:1162.50px;font-size:14px;left:304.50px;color:#2a3045;letter-spacing:0px;">Overdue Shipments</div>
<div class="t " style="top:1185.19px;font-size:12px;left:304.50px;color:#8a8ea0;letter-spacing:-0.18px;">Order ID: #8902</div>
<div class="t m" style="top:1161.44px;font-size:11px;right:1148.50px;color:#8a8ea0;letter-spacing:0px;">25 Sep 2019</div>
<div class="card" style="left:815px;top:762px;width:530px;height:457.5px;"></div>
<div class="t m" style="top:781.70px;font-size:15px;left:834.40px;color:#2a3045;letter-spacing:-0.1px;">Top Users Conversion Rate</div>
<div class="t " style="top:803.70px;font-size:13px;left:834.40px;color:#8a8ea0;letter-spacing:0.06px;">Nemo enim ipsam voluptatem fugit sequi nesciunt.</div>
<div class="abs" style="left:815px;top:839px;width:530px;height:1px;background:#e8ebf4;"></div>
<div class="abs" style="left:815px;top:891.8px;width:530px;height:1px;background:#e8ebf4;"></div>
<div class="abs" style="left:815px;top:944.9px;width:530px;height:1px;background:#e8ebf4;"></div>
<div class="abs" style="left:815px;top:998.0px;width:530px;height:1px;background:#e8ebf4;"></div>
<div class="abs" style="left:815px;top:1051.1px;width:530px;height:1px;background:#e8ebf4;"></div>
<div class="abs" style="left:815px;top:1114.1px;width:530px;height:1px;background:#e8ebf4;"></div>
<div class="abs" style="left:815px;top:1166.9px;width:530px;height:1px;background:#e8ebf4;"></div>
<svg class="abs" style="left:831px;top:847.8px;width:36px;height:36px" viewBox="0 0 36 36"><defs><clipPath id="ua0c"><circle cx="18.0" cy="18.0" r="18.0"/></clipPath><filter id="ua0f" x="-10%" y="-10%" width="120%" height="120%"><feGaussianBlur stdDeviation="0.45"/></filter></defs><g clip-path="url(#ua0c)"><g filter="url(#ua0f)"><rect x="-2" y="-2" width="40" height="40" fill="#37424b"/><rect x="-2" y="7" width="14" height="3" fill="#8b7a6c"/><rect x="-2" y="13" width="13" height="2.5" fill="#6f6a66"/><rect x="30" y="3" width="8" height="28" fill="#a3a1ac"/><path d="M5 38 Q6 21.5 17 19.5 L22 19.5 Q31 21.5 32 38 Z" fill="#171f2b"/><rect x="16.6" y="14" width="5" height="6.5" fill="#b98b76"/><ellipse cx="19" cy="11.6" rx="4.3" ry="5.3" fill="#c79b86"/><ellipse cx="18.6" cy="7.2" rx="5" ry="3.2" fill="#33251f"/><ellipse cx="19.8" cy="15.6" rx="2.8" ry="1.6" fill="#4d382f"/><rect x="11.5" y="28.2" width="14.5" height="3.4" fill="#e3e5e8" opacity=".92"/></g></g></svg>
<div class="t m" style="top:847.60px;font-size:14px;left:883.10px;color:#2a3045;letter-spacing:0px;">Socrates Itumay</div>
<div class="t " style="top:867.59px;font-size:11px;left:883.10px;color:#8a8ea0;letter-spacing:-0.14px;">Sales Manager1</div>
<div class="t b" style="top:846.90px;font-size:14px;left:1249.70px;color:#2a3045;letter-spacing:-0.75px;">34%</div>
<div class="t " style="top:867.59px;font-size:11px;left:1249.70px;color:#8a8ea0;letter-spacing:-0.18px;">Conversion Rate</div>
<svg class="abs" style="left:831px;top:900.8px;width:36px;height:36px" viewBox="0 0 36 36"><defs><clipPath id="ua1c"><circle cx="18.0" cy="18.0" r="18.0"/></clipPath><filter id="ua1f" x="-10%" y="-10%" width="120%" height="120%"><feGaussianBlur stdDeviation="0.45"/></filter></defs><g clip-path="url(#ua1c)"><g filter="url(#ua1f)"><rect x="-2" y="-2" width="40" height="40" fill="#5b9aa9"/><path d="M24 0L31 14M28 -1L36 13M6 4L3 16M31 12L35 22" stroke="#2c525e" stroke-width="1.6"/><rect x="-2" y="-2" width="9" height="20" fill="#6eb0bd"/><path d="M13 2 Q25 -1 28 9 Q31 19 28 27 L11 38 L3 31 Q5 13 13 2 Z" fill="#dbc59e"/><ellipse cx="20.5" cy="16" rx="6.3" ry="8" fill="#e2b7a3" transform="rotate(-14 20.5 16)"/><ellipse cx="19.2" cy="21.3" rx="1.7" ry=".9" fill="#b13f4c"/><ellipse cx="22.5" cy="13.5" rx="1.3" ry=".7" fill="#5a6d7a"/><path d="M9 20 Q8 30 13 36 L17 30 Q12 25 12 14 Z" fill="#d2bb92"/><path d="M12 38 Q15 26 29 22.5 L38 25 L38 38 Z" fill="#94abb1"/></g></g></svg>
<div class="t m" style="top:900.60px;font-size:14px;left:883.10px;color:#2a3045;letter-spacing:0px;">Reynante Labares</div>
<div class="t " style="top:920.59px;font-size:11px;left:883.10px;color:#8a8ea0;letter-spacing:-0.14px;">Sales Manager2</div>
<div class="t b" style="top:899.90px;font-size:14px;left:1249.70px;color:#2a3045;letter-spacing:-0.75px;">22%</div>
<div class="t " style="top:920.59px;font-size:11px;left:1249.70px;color:#8a8ea0;letter-spacing:-0.18px;">Conversion Rate</div>
<svg class="abs" style="left:831px;top:953.9px;width:36px;height:36px" viewBox="0 0 36 36"><defs><clipPath id="ua2c"><circle cx="18.0" cy="18.0" r="18.0"/></clipPath><filter id="ua2f" x="-10%" y="-10%" width="120%" height="120%"><feGaussianBlur stdDeviation="0.45"/></filter></defs><g clip-path="url(#ua2c)"><g filter="url(#ua2f)"><rect x="-2" y="-2" width="40" height="40" fill="#eaeef2"/><rect x="-2" y="-2" width="11" height="40" fill="#dfe4ea"/><path d="M1 38 Q4 27.500 13 24 L22 20.800 Q31 22.500 34.500 29.500 L35 38 Z" fill="#29343f"/><ellipse cx="32.6" cy="26.6" rx="2.4" ry="3.8" fill="#d9b29c" transform="rotate(-25 32.6 26.6)"/><path d="M11.800 17 L18.200 16 L20.600 23.200 L14.400 25.800 Z" fill="#cfa58f"/><ellipse cx="12.2" cy="7.2" rx="6.6" ry="4.7" fill="#23262c" transform="rotate(-20 12.2 7.2)"/><ellipse cx="13.6" cy="12.8" rx="4.6" ry="5.9" fill="#d9b19b" transform="rotate(-10 13.6 12.8)"/><path d="M8.800 9.600 Q10 6.200 16.500 6.400 L17.800 8.600 Q12 7.800 9.400 11.400 Z" fill="#23262c"/><path d="M8.800 12.300 L18.400 10.500" stroke="#2b2b2e" stroke-width="1.3"/><ellipse cx="14.8" cy="17.700" rx="3.100" ry="1.300" fill="#5c483e" transform="rotate(-10 14.8 17.7)"/></g></g></svg>
<div class="t m" style="top:953.70px;font-size:14px;left:883.10px;color:#2a3045;letter-spacing:0px;">Owen Bongcaras</div>
<div class="t " style="top:973.69px;font-size:11px;left:883.10px;color:#8a8ea0;letter-spacing:-0.14px;">Sales Manager3</div>
<div class="t b" style="top:953.00px;font-size:14px;left:1249.70px;color:#2a3045;letter-spacing:-0.75px;">18%</div>
<div class="t " style="top:973.69px;font-size:11px;left:1249.70px;color:#8a8ea0;letter-spacing:-0.18px;">Conversion Rate</div>
<svg class="abs" style="left:831px;top:1007px;width:36px;height:36px" viewBox="0 0 36 36"><defs><clipPath id="ua3c"><circle cx="18.0" cy="18.0" r="18.0"/></clipPath><filter id="ua3f" x="-10%" y="-10%" width="120%" height="120%"><feGaussianBlur stdDeviation="0.45"/></filter></defs><g clip-path="url(#ua3c)"><g filter="url(#ua3f)"><rect x="-2" y="-2" width="40" height="40" fill="#b5b16c"/><rect x="20" y="-2" width="18" height="22" fill="#d9c989"/><rect x="-2" y="-2" width="14" height="14" fill="#c6bf7e"/><path d="M24 12 Q31 18 29 30 L24 38 L18 30 Z" fill="#c6996b"/><ellipse cx="14.5" cy="34.5" rx="10" ry="5" fill="#f0d5cf"/><ellipse cx="14.3" cy="18.2" rx="5.6" ry="6.8" fill="#e7bca7" transform="rotate(12 14.3 18.2)"/><ellipse cx="12.3" cy="21.8" rx="1.6" ry=".9" fill="#a62f47"/><ellipse cx="19.5" cy="8.6" rx="9.4" ry="7" fill="#acaaab"/><ellipse cx="15.5" cy="13" rx="13" ry="3" fill="#8f8d90" transform="rotate(-14 15.5 13)"/><path d="M8 14 L27 9.5" stroke="#8a5a3c" stroke-width="1"/></g></g></svg>
<div class="t m" style="top:1006.80px;font-size:14px;left:883.10px;color:#2a3045;letter-spacing:0px;">Mariane Galeon</div>
<div class="t " style="top:1026.79px;font-size:11px;left:883.10px;color:#8a8ea0;letter-spacing:-0.14px;">Sales Manager4</div>
<div class="t b" style="top:1006.10px;font-size:14px;left:1249.70px;color:#2a3045;letter-spacing:-0.75px;">15%</div>
<div class="t " style="top:1026.79px;font-size:11px;left:1249.70px;color:#8a8ea0;letter-spacing:-0.18px;">Conversion Rate</div>
<svg class="abs" style="left:831px;top:1060px;width:36px;height:36px" viewBox="0 0 36 36"><defs><clipPath id="ua4c"><circle cx="18.0" cy="18.0" r="18.0"/></clipPath><filter id="ua4f" x="-10%" y="-10%" width="120%" height="120%"><feGaussianBlur stdDeviation="0.45"/></filter></defs><g clip-path="url(#ua4c)"><g filter="url(#ua4f)"><rect x="-2" y="-2" width="40" height="40" fill="#5b4a3a"/><rect x="-2" y="-2" width="40" height="12" fill="#7d6753"/><rect x="24" y="2" width="14" height="16" fill="#6e5a49"/><path d="M2 38 Q4 24.5 14 21.2 L24 21.2 Q33 24.5 34.500 38 Z" fill="#22262b"/><path d="M16.2 21.5 L22 21.5 L21.2 38 L17 38 Z" fill="#8e9498"/><ellipse cx="11.5" cy="31.5" rx="2.6" ry="3.6" fill="#b98a56"/><rect x="16.5" y="17" width="5" height="5.5" fill="#a87453"/><ellipse cx="19" cy="13" rx="5" ry="6.1" fill="#b9815f"/><ellipse cx="19" cy="7.6" rx="6" ry="4" fill="#17130f"/><rect x="16.6" y="15.3" width="5" height="1.6" rx=".8" fill="#f2ece7"/></g></g></svg>
<div class="t m" style="top:1058.95px;font-size:14px;left:883.10px;color:#2a3045;letter-spacing:0px;">Joyce Chua</div>
<div class="t " style="top:1079.59px;font-size:11px;left:883.10px;color:#8a8ea0;letter-spacing:-0.14px;">Sales Manager5</div>
<div class="t b" style="top:1061.55px;font-size:14px;left:1249.70px;color:#2a3045;letter-spacing:-0.75px;">12%</div>
<div class="t " style="top:1090.69px;font-size:11px;left:1249.70px;color:#8a8ea0;letter-spacing:-0.18px;">Conversion Rate</div>
<svg class="abs" style="left:831px;top:1123px;width:36px;height:36px" viewBox="0 0 36 36"><defs><clipPath id="ua5c"><circle cx="18.0" cy="18.0" r="18.0"/></clipPath><filter id="ua5f" x="-10%" y="-10%" width="120%" height="120%"><feGaussianBlur stdDeviation="0.45"/></filter></defs><g clip-path="url(#ua5c)"><g filter="url(#ua5f)"><rect x="-2" y="-2" width="40" height="40" fill="#c8ccd4"/><rect x="22" y="-2" width="16" height="40" fill="#d3d6dd"/><path d="M23.500 10.500 Q29.500 7 31.200 13 L30.500 27 L24.500 25 Z" fill="#e6bdab"/><path d="M3 38 L7 27.500 Q18 22 30 24 L33.500 30 L31 38 Z" fill="#171a29"/><path d="M10 3.500 Q20 -0.500 22.500 8 L21 20 L12.500 31 L4.500 29 Q3.500 12 10 3.500 Z" fill="#231a1b"/><ellipse cx="17.3" cy="13.2" rx="4.5" ry="6" fill="#edc8b8" transform="rotate(8 17.3 13.2)"/><ellipse cx="17.4" cy="16.9" rx="1.3" ry=".7" fill="#c0616a"/><rect x="13" y="29" width="11" height="2.6" fill="#a2a7ba" opacity=".55"/></g></g></svg>
<div class="t m" style="top:1122.80px;font-size:14px;left:883.10px;color:#2a3045;letter-spacing:0px;">Sonia Fraser</div>
<div class="t " style="top:1142.79px;font-size:11px;left:883.10px;color:#8a8ea0;letter-spacing:-0.14px;">Sales Manager5</div>
<div class="t b" style="top:1122.10px;font-size:14px;left:1249.70px;color:#2a3045;letter-spacing:-0.75px;">11%</div>
<div class="t " style="top:1142.79px;font-size:11px;left:1249.70px;color:#8a8ea0;letter-spacing:-0.18px;">Conversion Rate</div>
<svg class="abs" style="left:831px;top:1176px;width:36px;height:36px" viewBox="0 0 36 36"><defs><clipPath id="ua6c"><circle cx="18.0" cy="18.0" r="18.0"/></clipPath><filter id="ua6f" x="-10%" y="-10%" width="120%" height="120%"><feGaussianBlur stdDeviation="0.45"/></filter></defs><g clip-path="url(#ua6c)"><g filter="url(#ua6f)"><rect x="-2" y="-2" width="40" height="40" fill="#eaeef2"/><rect x="-2" y="-2" width="11" height="40" fill="#dfe4ea"/><path d="M1 38 Q4 27.500 13 24 L22 20.800 Q31 22.500 34.500 29.500 L35 38 Z" fill="#29343f"/><ellipse cx="32.6" cy="26.6" rx="2.4" ry="3.8" fill="#d9b29c" transform="rotate(-25 32.6 26.6)"/><path d="M11.800 17 L18.200 16 L20.600 23.200 L14.400 25.800 Z" fill="#cfa58f"/><ellipse cx="12.2" cy="7.2" rx="6.6" ry="4.7" fill="#23262c" transform="rotate(-20 12.2 7.2)"/><ellipse cx="13.6" cy="12.8" rx="4.6" ry="5.9" fill="#d9b19b" transform="rotate(-10 13.6 12.8)"/><path d="M8.800 9.600 Q10 6.200 16.500 6.400 L17.800 8.600 Q12 7.800 9.400 11.400 Z" fill="#23262c"/><path d="M8.800 12.300 L18.400 10.500" stroke="#2b2b2e" stroke-width="1.3"/><ellipse cx="14.8" cy="17.700" rx="3.100" ry="1.300" fill="#5c483e" transform="rotate(-10 14.8 17.7)"/></g></g></svg>
<div class="t m" style="top:1175.80px;font-size:14px;left:883.10px;color:#2a3045;letter-spacing:0px;">Owen Bongcaras</div>
<div class="t " style="top:1195.79px;font-size:11px;left:883.10px;color:#8a8ea0;letter-spacing:-0.14px;">Sales Manager3</div>
<div class="t b" style="top:1175.10px;font-size:14px;left:1249.70px;color:#2a3045;letter-spacing:-0.75px;">18%</div>
<div class="t " style="top:1195.79px;font-size:11px;left:1249.70px;color:#8a8ea0;letter-spacing:-0.18px;">Conversion Rate</div>
<div class="card" style="left:1369px;top:762px;width:531px;height:456px;"></div>
<div class="t m" style="top:781.70px;font-size:15px;left:1388.60px;color:#2a3045;letter-spacing:0.02px;">Countrywise Sales</div>
<div class="t " style="top:803.70px;font-size:13px;left:1388.60px;color:#8a8ea0;letter-spacing:0.06px;">Nemo enim ipsam voluptatem fugit sequi nesciunt.</div>
<div class="abs" style="left:1369px;top:839px;width:531px;height:1px;background:#e8ebf4;"></div>
<div class="abs" style="left:1369px;top:886.5px;width:531px;height:1px;background:#e8ebf4;"></div>
<div class="abs" style="left:1369px;top:933.8px;width:531px;height:1px;background:#e8ebf4;"></div>
<div class="abs" style="left:1369px;top:981.1px;width:531px;height:1px;background:#e8ebf4;"></div>
<div class="abs" style="left:1369px;top:1028.5px;width:531px;height:1px;background:#e8ebf4;"></div>
<div class="abs" style="left:1369px;top:1075.9px;width:531px;height:1px;background:#e8ebf4;"></div>
<div class="abs" style="left:1369px;top:1123.7px;width:531px;height:1px;background:#e8ebf4;"></div>
<div class="abs" style="left:1369px;top:1171.0px;width:531px;height:1px;background:#e8ebf4;"></div>
<svg class="abs" style="left:1388.5px;top:851.55px;width:24px;height:24px" viewBox="0 0 24 24"><defs><clipPath id="fl0"><circle cx="12" cy="12" r="11.5"/></clipPath></defs><g clip-path="url(#fl0)"><rect width="24" height="24" fill="#fff"/><rect x="0" y="0.00" width="24" height="1.85" fill="#c8414b"/><rect x="0" y="3.69" width="24" height="1.85" fill="#c8414b"/><rect x="0" y="7.38" width="24" height="1.85" fill="#c8414b"/><rect x="0" y="11.08" width="24" height="1.85" fill="#c8414b"/><rect x="0" y="14.77" width="24" height="1.85" fill="#c8414b"/><rect x="0" y="18.46" width="24" height="1.85" fill="#c8414b"/><rect x="0" y="22.15" width="24" height="1.85" fill="#c8414b"/><rect x="0" y="0" width="18.4" height="13.6" fill="#3a4572"/><circle cx="1.60" cy="1.80" r=".42" fill="#fff" opacity=".85"/><circle cx="3.90" cy="1.80" r=".42" fill="#fff" opacity=".85"/><circle cx="6.20" cy="1.80" r=".42" fill="#fff" opacity=".85"/><circle cx="8.50" cy="1.80" r=".42" fill="#fff" opacity=".85"/><circle cx="10.80" cy="1.80" r=".42" fill="#fff" opacity=".85"/><circle cx="13.10" cy="1.80" r=".42" fill="#fff" opacity=".85"/><circle cx="15.40" cy="1.80" r=".42" fill="#fff" opacity=".85"/><circle cx="17.70" cy="1.80" r=".42" fill="#fff" opacity=".85"/><circle cx="2.75" cy="4.00" r=".42" fill="#fff" opacity=".85"/><circle cx="5.05" cy="4.00" r=".42" fill="#fff" opacity=".85"/><circle cx="7.35" cy="4.00" r=".42" fill="#fff" opacity=".85"/><circle cx="9.65" cy="4.00" r=".42" fill="#fff" opacity=".85"/><circle cx="11.95" cy="4.00" r=".42" fill="#fff" opacity=".85"/><circle cx="14.25" cy="4.00" r=".42" fill="#fff" opacity=".85"/><circle cx="16.55" cy="4.00" r=".42" fill="#fff" opacity=".85"/><circle cx="18.85" cy="4.00" r=".42" fill="#fff" opacity=".85"/><circle cx="1.60" cy="6.20" r=".42" fill="#fff" opacity=".85"/><circle cx="3.90" cy="6.20" r=".42" fill="#fff" opacity=".85"/><circle cx="6.20" cy="6.20" r=".42" fill="#fff" opacity=".85"/><circle cx="8.50" cy="6.20" r=".42" fill="#fff" opacity=".85"/><circle cx="10.80" cy="6.20" r=".42" fill="#fff" opacity=".85"/><circle cx="13.10" cy="6.20" r=".42" fill="#fff" opacity=".85"/><circle cx="15.40" cy="6.20" r=".42" fill="#fff" opacity=".85"/><circle cx="17.70" cy="6.20" r=".42" fill="#fff" opacity=".85"/><circle cx="2.75" cy="8.40" r=".42" fill="#fff" opacity=".85"/><circle cx="5.05" cy="8.40" r=".42" fill="#fff" opacity=".85"/><circle cx="7.35" cy="8.40" r=".42" fill="#fff" opacity=".85"/><circle cx="9.65" cy="8.40" r=".42" fill="#fff" opacity=".85"/><circle cx="11.95" cy="8.40" r=".42" fill="#fff" opacity=".85"/><circle cx="14.25" cy="8.40" r=".42" fill="#fff" opacity=".85"/><circle cx="16.55" cy="8.40" r=".42" fill="#fff" opacity=".85"/><circle cx="18.85" cy="8.40" r=".42" fill="#fff" opacity=".85"/><circle cx="1.60" cy="10.60" r=".42" fill="#fff" opacity=".85"/><circle cx="3.90" cy="10.60" r=".42" fill="#fff" opacity=".85"/><circle cx="6.20" cy="10.60" r=".42" fill="#fff" opacity=".85"/><circle cx="8.50" cy="10.60" r=".42" fill="#fff" opacity=".85"/><circle cx="10.80" cy="10.60" r=".42" fill="#fff" opacity=".85"/><circle cx="13.10" cy="10.60" r=".42" fill="#fff" opacity=".85"/><circle cx="15.40" cy="10.60" r=".42" fill="#fff" opacity=".85"/><circle cx="17.70" cy="10.60" r=".42" fill="#fff" opacity=".85"/><circle cx="2.75" cy="12.80" r=".42" fill="#fff" opacity=".85"/><circle cx="5.05" cy="12.80" r=".42" fill="#fff" opacity=".85"/><circle cx="7.35" cy="12.80" r=".42" fill="#fff" opacity=".85"/><circle cx="9.65" cy="12.80" r=".42" fill="#fff" opacity=".85"/><circle cx="11.95" cy="12.80" r=".42" fill="#fff" opacity=".85"/><circle cx="14.25" cy="12.80" r=".42" fill="#fff" opacity=".85"/><circle cx="16.55" cy="12.80" r=".42" fill="#fff" opacity=".85"/><circle cx="18.85" cy="12.80" r=".42" fill="#fff" opacity=".85"/></g></svg>
<div class="t " style="top:855.35px;font-size:13px;left:1428.00px;color:#4d5369;letter-spacing:-0.1px;">United States</div>
<div class="t b" style="top:855.35px;font-size:13px;right:40.30px;color:#2a3045;letter-spacing:0.03px;">$12,897</div>
<svg class="abs" style="left:1388.5px;top:898.9499999999999px;width:24px;height:24px" viewBox="0 0 24 24"><defs><clipPath id="fl1"><circle cx="12" cy="12" r="11.5"/></clipPath></defs><g clip-path="url(#fl1)"><rect width="24" height="8" fill="#ae1c28"/><rect y="8" width="24" height="8" fill="#fff"/><rect y="16" width="24" height="8" fill="#21468b"/></g></svg>
<div class="t " style="top:902.75px;font-size:13px;left:1428.00px;color:#4d5369;letter-spacing:-0.1px;">Netherlands</div>
<div class="t b" style="top:902.75px;font-size:13px;right:40.30px;color:#2a3045;letter-spacing:0.03px;">$11,789</div>
<svg class="abs" style="left:1388.5px;top:946.25px;width:24px;height:24px" viewBox="0 0 24 24"><defs><clipPath id="fl2"><circle cx="12" cy="12" r="11.5"/></clipPath></defs><g clip-path="url(#fl2)"><rect width="24" height="24" fill="#0b0b6e"/><path d="M-2 1L26 23M26 1L-2 23" stroke="#fff" stroke-width="3.4"/><path d="M-2 1L26 23M26 1L-2 23" stroke="#d80000" stroke-width="1.1"/><path d="M12 0V24M0 12H24" stroke="#fff" stroke-width="7.4"/><path d="M12 0V24M0 12H24" stroke="#d80000" stroke-width="4.8"/></g></svg>
<div class="t " style="top:950.05px;font-size:13px;left:1428.00px;color:#4d5369;letter-spacing:-0.1px;">United Kingdom</div>
<div class="t b" style="top:950.05px;font-size:13px;right:40.30px;color:#2a3045;letter-spacing:0.03px;">$10,234</div>
<svg class="abs" style="left:1388.5px;top:993.5999999999999px;width:24px;height:24px" viewBox="0 0 24 24"><defs><clipPath id="fl3"><circle cx="12" cy="12" r="11.5"/></clipPath></defs><g clip-path="url(#fl3)"><rect width="24" height="24" fill="#fff"/><rect width="7.6" height="24" fill="#c8102e"/><path transform="translate(-2.6 -1.9) scale(1.14)" d="M16.2 6.8l1.1 2.2 1.6-.5-.5 3 1.8-.9.2 1.5 1.5-.1-1.9 2.5.6.6-3.4.6-.5 0 .2 2.3h-1.4l.2-2.3-3.9-.6.6-.6-1.9-2.5 1.5.1.2-1.5 1.8.9-.5-3 1.6.5z" fill="#c8102e"/></g></svg>
<div class="t " style="top:997.40px;font-size:13px;left:1428.00px;color:#4d5369;letter-spacing:-0.1px;">Canada</div>
<div class="t b" style="top:997.40px;font-size:13px;right:40.30px;color:#2a3045;letter-spacing:0.03px;">$9,104</div>
<svg class="abs" style="left:1388.5px;top:1041.0px;width:24px;height:24px" viewBox="0 0 24 24"><defs><clipPath id="fl4"><circle cx="12" cy="12" r="11.5"/></clipPath></defs><g clip-path="url(#fl4)"><rect width="24" height="24" fill="#06065f"/><g><rect width="13" height="11" fill="#1a237b"/><path d="M0 0L13 11M13 0L0 11" stroke="#fff" stroke-width="2.2"/><path d="M0 0L13 11M13 0L0 11" stroke="#e8112d" stroke-width=".8"/><path d="M6.5 0V11M0 5.5H13" stroke="#fff" stroke-width="3.2"/><path d="M6.5 0V11M0 5.5H13" stroke="#e8112d" stroke-width="1.8"/></g><path d="M7.5 15.2l.8 1.7 1.8.2-1.3 1.3.3 1.8-1.6-.9-1.6.9.3-1.8-1.3-1.3 1.8-.2z" fill="#fff"/><circle cx="18.5" cy="7" r=".9" fill="#fff"/><circle cx="20.5" cy="12" r=".8" fill="#fff"/><circle cx="17" cy="13.2" r=".7" fill="#fff"/><circle cx="18.4" cy="18.6" r=".9" fill="#fff"/></g></svg>
<div class="t " style="top:1044.80px;font-size:13px;left:1428.00px;color:#4d5369;letter-spacing:-0.1px;">Australia</div>
<div class="t b" style="top:1044.80px;font-size:13px;right:40.30px;color:#2a3045;letter-spacing:0.03px;">$16,205</div>
<svg class="abs" style="left:1388.5px;top:1088.6000000000001px;width:24px;height:24px" viewBox="0 0 24 24"><defs><clipPath id="fl5"><circle cx="12" cy="12" r="11.5"/></clipPath></defs><g clip-path="url(#fl5)"><rect width="24" height="7.4" fill="#fff"/><rect y="7.4" width="24" height="8.6" fill="#0d3aa6"/><rect y="16" width="24" height="8" fill="#e02a1e"/><path d="M4.2 4.6h6v5.2q-.4 2.6-3 3.4-2.6-.8-3-3.4z" fill="#0d3aa6" stroke="#c0392b" stroke-width=".5"/><path d="M5 9.6l2.2-2.4 2.2 2.4-.6 1.6h-3.2z" fill="#fff"/></g></svg>
<div class="t " style="top:1092.40px;font-size:13px;left:1428.00px;color:#4d5369;letter-spacing:-0.1px;">Slovenia</div>
<div class="t b" style="top:1092.40px;font-size:13px;right:40.30px;color:#2a3045;letter-spacing:0.03px;">$18,165</div>
<svg class="abs" style="left:1388.5px;top:1136.1499999999999px;width:24px;height:24px" viewBox="0 0 24 24"><defs><clipPath id="fl6"><circle cx="12" cy="12" r="11.5"/></clipPath></defs><g clip-path="url(#fl6)"><rect width="24" height="8" fill="#111"/><rect y="8" width="24" height="8" fill="#dd0000"/><rect y="16" width="24" height="8" fill="#ffce00"/></g></svg>
<div class="t " style="top:1139.95px;font-size:13px;left:1428.00px;color:#4d5369;letter-spacing:-0.1px;">Denmark</div>
<div class="t b" style="top:1139.95px;font-size:13px;right:40.30px;color:#2a3045;letter-spacing:0.03px;">$19,765</div>
<svg class="abs" style="left:1388.5px;top:1183.25px;width:24px;height:24px" viewBox="0 0 24 24"><defs><clipPath id="fl7"><circle cx="12" cy="12" r="11.5"/></clipPath></defs><g clip-path="url(#fl7)"><rect width="24" height="7.4" fill="#fff"/><rect y="7.4" width="24" height="8.6" fill="#0d3aa6"/><rect y="16" width="24" height="8" fill="#e02a1e"/><path d="M4.2 4.6h6v5.2q-.4 2.6-3 3.4-2.6-.8-3-3.4z" fill="#0d3aa6" stroke="#c0392b" stroke-width=".5"/><path d="M5 9.6l2.2-2.4 2.2 2.4-.6 1.6h-3.2z" fill="#fff"/></g></svg>
<div class="t " style="top:1187.05px;font-size:13px;left:1428.00px;color:#4d5369;letter-spacing:-0.1px;">Slovenia</div>
<div class="t b" style="top:1187.05px;font-size:13px;right:40.30px;color:#2a3045;letter-spacing:0.03px;">$18,165</div>
<div class="card" style="left:260px;top:1241px;width:1640px;height:440px;"></div>
<div class="t m" style="top:1260.30px;font-size:15px;left:279.50px;color:#2a3045;letter-spacing:0.02px;">Product Summary</div>
<div class="t " style="top:1281.60px;font-size:13px;left:279.50px;color:#8a8ea0;letter-spacing:0.02px;">Nemo enim ipsam voluptatem fugit sequi nesciunt.</div>
<div class="abs" style="left:279.3px;top:1306.9px;width:1601.3px;height:1px;background:#e7ebf3;"></div>
<div class="abs" style="left:279.3px;top:1345.0px;width:1601.3px;height:1px;background:#e7ebf3;"></div>
<div class="abs" style="left:279.3px;top:1384.8px;width:1601.3px;height:1px;background:#e7ebf3;"></div>
<div class="abs" style="left:279.3px;top:1424.0px;width:1601.3px;height:1px;background:#e7ebf3;"></div>
<div class="abs" style="left:279.3px;top:1463.5px;width:1601.3px;height:1px;background:#e7ebf3;"></div>
<div class="abs" style="left:279.3px;top:1502.9px;width:1601.3px;height:1px;background:#e7ebf3;"></div>
<div class="abs" style="left:279.3px;top:1542.7px;width:1601.3px;height:1px;background:#e7ebf3;"></div>
<div class="abs" style="left:279.3px;top:1581.9px;width:1601.3px;height:1px;background:#e7ebf3;"></div>
<div class="abs" style="left:279.3px;top:1621.7px;width:1601.3px;height:1px;background:#e7ebf3;"></div>
<div class="abs" style="left:279.3px;top:1660.9px;width:1601.3px;height:1px;background:#e7ebf3;"></div>
<div class="abs" style="left:278.8px;top:1307.4px;width:1px;height:354px;background:#e7ebf3;"></div>
<div class="abs" style="left:375.1px;top:1307.4px;width:1px;height:354px;background:#e7ebf3;"></div>
<div class="abs" style="left:594.7px;top:1307.4px;width:1px;height:354px;background:#e7ebf3;"></div>
<div class="abs" style="left:759.6px;top:1307.4px;width:1px;height:354px;background:#e7ebf3;"></div>
<div class="abs" style="left:1288.2px;top:1307.4px;width:1px;height:354px;background:#e7ebf3;"></div>
<div class="abs" style="left:1475.0px;top:1307.4px;width:1px;height:354px;background:#e7ebf3;"></div>
<div class="abs" style="left:1716.9px;top:1307.4px;width:1px;height:354px;background:#e7ebf3;"></div>
<div class="abs" style="left:1880.1px;top:1307.4px;width:1px;height:354px;background:#e7ebf3;"></div>
<div class="t b" style="top:1319.15px;font-size:14px;left:295.70px;color:#2a3045;letter-spacing:-0.58px;">#No</div>
<div class="t b" style="top:1319.15px;font-size:14px;left:390.30px;color:#2a3045;letter-spacing:-0.58px;">Client Name</div>
<div class="t b" style="top:1319.15px;font-size:14px;left:611.60px;color:#2a3045;letter-spacing:-0.58px;">Product ID</div>
<div class="t b" style="top:1319.15px;font-size:14px;left:776.50px;color:#2a3045;letter-spacing:-0.58px;">Product</div>
<div class="t b" style="top:1319.15px;font-size:14px;left:1305.10px;color:#2a3045;letter-spacing:-0.58px;">Product Cost</div>
<div class="t b" style="top:1319.15px;font-size:14px;left:1491.90px;color:#2a3045;letter-spacing:-0.58px;">Payment Mode</div>
<div class="t b" style="top:1319.15px;font-size:14px;left:1733.80px;color:#2a3045;letter-spacing:-0.58px;">Status</div>
<div class="t " style="top:1357.15px;font-size:14px;left:295.70px;color:#4d5369;letter-spacing:-0.17px;">#01</div>
<div class="t " style="top:1357.15px;font-size:14px;left:390.70px;color:#4d5369;letter-spacing:-0.17px;">Sean Black</div>
<div class="t " style="top:1357.15px;font-size:14px;left:611.60px;color:#4d5369;letter-spacing:-0.17px;">PRO12345</div>
<div class="t " style="top:1357.15px;font-size:14px;left:776.50px;color:#4d5369;letter-spacing:-0.17px;">Mi LED Smart TV 4A 80</div>
<div class="t " style="top:1357.15px;font-size:14px;left:1305.10px;color:#4d5369;letter-spacing:-0.17px;">$14,500</div>
<div class="t " style="top:1357.15px;font-size:14px;left:1491.90px;color:#4d5369;letter-spacing:-0.17px;">Online Payment</div>
<div class="abs b" style="left:1733.2px;top:1357.70px;width:56px;height:17px;border-radius:3px;background:#29a744;color:#fff;font-size:10.5px;line-height:15.4px;text-align:center;letter-spacing:-.13px;white-space:nowrap">Delivered</div>
<div class="t " style="top:1396.65px;font-size:14px;left:295.70px;color:#4d5369;letter-spacing:-0.17px;">#02</div>
<div class="t " style="top:1396.65px;font-size:14px;left:390.70px;color:#4d5369;letter-spacing:-0.17px;">Evan Rees</div>
<div class="t " style="top:1396.65px;font-size:14px;left:611.60px;color:#4d5369;letter-spacing:-0.17px;">PRO8765</div>
<div class="t " style="top:1396.65px;font-size:14px;left:776.50px;color:#4d5369;letter-spacing:-0.17px;">Thomson R9 122cm (48 inch) Full HD LED TV</div>
<div class="t " style="top:1396.65px;font-size:14px;left:1305.10px;color:#4d5369;letter-spacing:-0.17px;">$30,000</div>
<div class="t " style="top:1396.65px;font-size:14px;left:1491.90px;color:#4d5369;letter-spacing:-0.17px;">Cash on delivered</div>
<div class="abs b" style="left:1733.2px;top:1397.20px;width:53px;height:17px;border-radius:3px;background:#8760fb;color:#fff;font-size:10.5px;line-height:15.4px;text-align:center;letter-spacing:-.13px;white-space:nowrap">Add Cart</div>
<div class="t " style="top:1436.00px;font-size:14px;left:295.70px;color:#4d5369;letter-spacing:-0.17px;">#03</div>
<div class="t " style="top:1436.00px;font-size:14px;left:390.70px;color:#4d5369;letter-spacing:-0.17px;">David Wallace</div>
<div class="t " style="top:1436.00px;font-size:14px;left:611.60px;color:#4d5369;letter-spacing:-0.17px;">PRO54321</div>
<div class="t " style="top:1436.00px;font-size:14px;left:776.50px;color:#4d5369;letter-spacing:-0.17px;">Vu 80cm (32 inch) HD Ready LED TV</div>
<div class="t " style="top:1436.00px;font-size:14px;left:1305.10px;color:#4d5369;letter-spacing:-0.17px;">$13,200</div>
<div class="t " style="top:1436.00px;font-size:14px;left:1491.90px;color:#4d5369;letter-spacing:-0.17px;">Online Payment</div>
<div class="abs b" style="left:1733.2px;top:1436.55px;width:50px;height:17px;border-radius:3px;background:#eb6f33;color:#fff;font-size:10.5px;line-height:15.4px;text-align:center;letter-spacing:-.13px;white-space:nowrap">Pending</div>
<div class="t " style="top:1475.45px;font-size:14px;left:295.70px;color:#4d5369;letter-spacing:-0.17px;">#04</div>
<div class="t " style="top:1475.45px;font-size:14px;left:390.70px;color:#4d5369;letter-spacing:-0.17px;">Julia Bower</div>
<div class="t " style="top:1475.45px;font-size:14px;left:611.60px;color:#4d5369;letter-spacing:-0.17px;">PRO97654</div>
<div class="t " style="top:1475.45px;font-size:14px;left:776.50px;color:#4d5369;letter-spacing:-0.17px;">Micromax 81cm (32 inch) HD Ready LED TV</div>
<div class="t " style="top:1475.45px;font-size:14px;left:1305.10px;color:#4d5369;letter-spacing:-0.17px;">$15,100</div>
<div class="t " style="top:1475.45px;font-size:14px;left:1491.90px;color:#4d5369;letter-spacing:-0.17px;">Cash on delivered</div>
<div class="abs b" style="left:1733.2px;top:1476.00px;width:59px;height:17px;border-radius:3px;background:#01b8ff;color:#fff;font-size:10.5px;line-height:15.4px;text-align:center;letter-spacing:-.13px;white-space:nowrap">Delivering</div>
<div class="t " style="top:1515.05px;font-size:14px;left:295.70px;color:#4d5369;letter-spacing:-0.17px;">#05</div>
<div class="t " style="top:1515.05px;font-size:14px;left:390.70px;color:#4d5369;letter-spacing:-0.17px;">Kevin James</div>
<div class="t " style="top:1515.05px;font-size:14px;left:611.60px;color:#4d5369;letter-spacing:-0.17px;">PRO4532</div>
<div class="t " style="top:1515.05px;font-size:14px;left:776.50px;color:#4d5369;letter-spacing:-0.17px;">HP 200 Mouse &amp; Wireless Laptop Keyboard</div>
<div class="t " style="top:1515.05px;font-size:14px;left:1305.10px;color:#4d5369;letter-spacing:-0.17px;">$5,987</div>
<div class="t " style="top:1515.05px;font-size:14px;left:1491.90px;color:#4d5369;letter-spacing:-0.17px;">Online Payment</div>
<div class="abs b" style="left:1733.2px;top:1515.60px;width:50px;height:17px;border-radius:3px;background:#f83e3e;color:#fff;font-size:10.5px;line-height:15.4px;text-align:center;letter-spacing:-.13px;white-space:nowrap">Shipped</div>
<div class="t " style="top:1554.55px;font-size:14px;left:295.70px;color:#4d5369;letter-spacing:-0.17px;">#06</div>
<div class="t " style="top:1554.55px;font-size:14px;left:390.70px;color:#4d5369;letter-spacing:-0.17px;">Theresa Wright</div>
<div class="t " style="top:1554.55px;font-size:14px;left:611.60px;color:#4d5369;letter-spacing:-0.17px;">PRO6789</div>
<div class="t " style="top:1554.55px;font-size:14px;left:776.50px;color:#4d5369;letter-spacing:-0.17px;">Digisol DG-HR3400 Router</div>
<div class="t " style="top:1554.55px;font-size:14px;left:1305.10px;color:#4d5369;letter-spacing:-0.17px;">$11,987</div>
<div class="t " style="top:1554.55px;font-size:14px;left:1491.90px;color:#4d5369;letter-spacing:-0.17px;">Cash on delivered</div>
<div class="abs b" style="left:1733.2px;top:1555.10px;width:59px;height:17px;border-radius:3px;background:#eb6f33;color:#fff;font-size:10.5px;line-height:15.4px;text-align:center;letter-spacing:-.13px;white-space:nowrap">Delivering</div>
<div class="t " style="top:1594.05px;font-size:14px;left:295.70px;color:#4d5369;letter-spacing:-0.17px;">#07</div>
<div class="t " style="top:1594.05px;font-size:14px;left:390.70px;color:#4d5369;letter-spacing:-0.17px;">Sebastian Black</div>
<div class="t " style="top:1594.05px;font-size:14px;left:611.60px;color:#4d5369;letter-spacing:-0.17px;">PRO4567</div>
<div class="t " style="top:1594.05px;font-size:14px;left:776.50px;color:#4d5369;letter-spacing:-0.17px;">Dell WM118 Wireless Optical Mouse</div>
<div class="t " style="top:1594.05px;font-size:14px;left:1305.10px;color:#4d5369;letter-spacing:-0.17px;">$4,700</div>
<div class="t " style="top:1594.05px;font-size:14px;left:1491.90px;color:#4d5369;letter-spacing:-0.17px;">Online Payment</div>
<div class="abs b" style="left:1733.2px;top:1594.60px;width:65px;height:17px;border-radius:3px;background:#01b8ff;color:#fff;font-size:10.5px;line-height:15.4px;text-align:center;letter-spacing:-.13px;white-space:nowrap">Add to Cart</div>
<div class="t " style="top:1633.55px;font-size:14px;left:295.70px;color:#4d5369;letter-spacing:-0.17px;">#08</div>
<div class="t " style="top:1633.55px;font-size:14px;left:390.70px;color:#4d5369;letter-spacing:-0.17px;">Kevin Glover</div>
<div class="t " style="top:1633.55px;font-size:14px;left:611.60px;color:#4d5369;letter-spacing:-0.17px;">PRO32156</div>
<div class="t " style="top:1633.55px;font-size:14px;left:776.50px;color:#4d5369;letter-spacing:-0.17px;">Dell 16 inch Laptop Backpack</div>
<div class="t " style="top:1633.55px;font-size:14px;left:1305.10px;color:#4d5369;letter-spacing:-0.17px;">$678</div>
<div class="t " style="top:1633.55px;font-size:14px;left:1491.90px;color:#4d5369;letter-spacing:-0.17px;">Cash On delivered</div>
<div class="abs b" style="left:1733.2px;top:1634.10px;width:56px;height:17px;border-radius:3px;background:#29a744;color:#fff;font-size:10.5px;line-height:15.4px;text-align:center;letter-spacing:-.13px;white-space:nowrap">Delivered</div>
<div class="abs" style="left:240px;top:1701px;width:1680px;height:52px;background:#fff;"></div>
<div class="t" style="left:685px;width:800px;text-align:center;top:1719.80px;font-size:13px;color:#343a4e;letter-spacing:-.03px">Copyright © 2024 <span class="b" style="color:#8760fb;letter-spacing:-.5px">dashlead</span>. Designed with <svg style="display:inline-block;width:13px;height:12px;vertical-align:-1.5px" viewBox="0 0 24 22"><path d="M12 21.5C5 15.5 1 11.5 1 7A6 6 0 0 1 12 3.8 6 6 0 0 1 23 7c0 4.500-4 8.500-11 14.500z" fill="#f83e3e"/></svg> by <span class="b" style="color:#8760fb;letter-spacing:-.5px">Spruko</span> All rights reserved</div>
<div class="abs" style="left:1870px;top:1703px;width:29.5px;height:29.5px;background:#8760fb;border-radius:3px"></div>
<svg class="abs" style="left:1878px;top:1711px;width:14px;height:14px" viewBox="0 0 14 14"><path d="M7 12V2.4M3.2 6L7 2.2L10.8 6" fill="none" stroke="#fff" stroke-width="1.6" stroke-linecap="round" stroke-linejoin="round"/></svg>
</body>
</html>
